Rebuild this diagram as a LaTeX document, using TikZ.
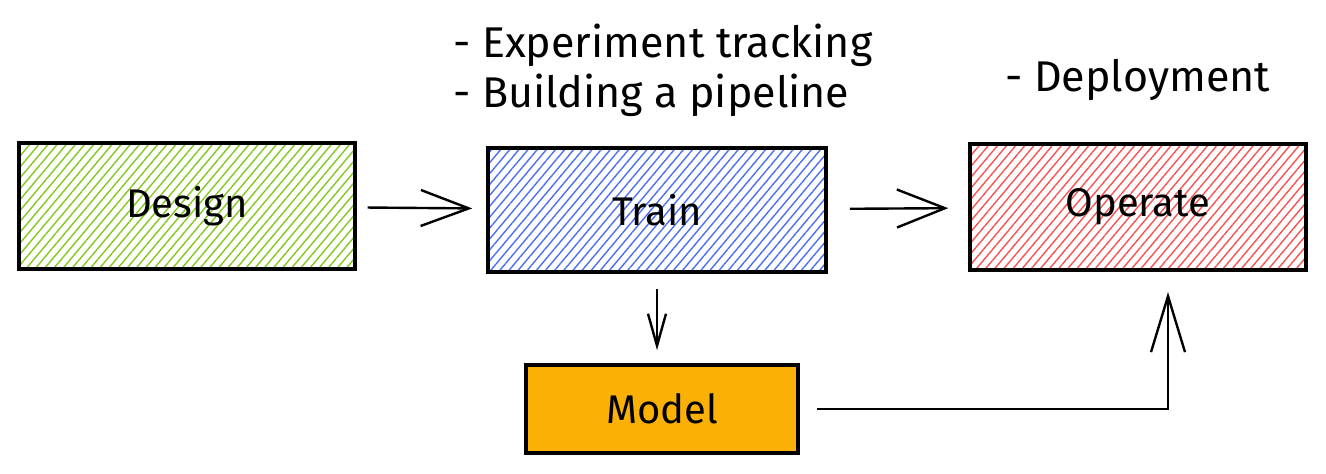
\documentclass[tikz,border=0pt]{standalone}
\usepackage{fontspec}
\setmainfont{Fira Sans}
\usetikzlibrary{arrows.meta,patterns.meta,positioning}
\definecolor{dgreen}{HTML}{82C91E}
\definecolor{dblue}{HTML}{4C6EF5}
\definecolor{dred}{HTML}{FA5252}
\definecolor{dorange}{HTML}{FAB005}
\tikzset{
  stage/.style={draw=black, line width=1.8pt, minimum width=168pt, minimum height=63pt, font=\fontsize{20}{24}\selectfont},
  hatch/.style={pattern={Lines[angle=50,distance=3.5pt,line width=0.7pt]}, pattern color=#1},
  note/.style={align=left, inner sep=0pt, font=\fontsize{21.5}{25}\selectfont},
  flow/.style={line width=1.2pt}
}
\begin{document}
\begin{tikzpicture}[x=0.5pt,y=-0.5pt]
\useasboundingbox (0,0) rectangle (1326,474);
% stages
\node[stage, hatch=dgreen] (design) at (187,206) {Design};
\node[stage, hatch=dblue, minimum width=169pt, minimum height=62pt] (train) at (657,210) {Train};
\node[stage, hatch=dred] (operate) at (1138,207) {Operate};
\node[stage, fill=dorange, minimum width=136pt, minimum height=44pt] (model) at (662,409) {Model};
% notes
\node[note, anchor=west] (trainnote) at (453,70) {- Experiment tracking\\- Building a pipeline};
\node[note, anchor=west] (opnote) at (1005,80) {- Deployment};
% connectors
\coordinate (opin) at (1168,270);
\draw[flow, -{Straight Barb[length=24pt,width=18pt]}, shorten <=6pt, shorten >=7pt] (design) -- (train);
\draw[flow, -{Straight Barb[length=24pt,width=19pt]}, shorten <=11pt, shorten >=10pt] (train) -- (operate);
\draw[flow, -{Straight Barb[length=16pt,width=9pt]}, shorten <=7.5pt, shorten >=6.5pt] (train.south) -- (train.south |- model.north);
\draw[flow, -{Straight Barb[length=28pt,width=17pt]}, shorten <=8.5pt, shorten >=11pt] (model.east) -| (opin);
\end{tikzpicture}
\end{document}
